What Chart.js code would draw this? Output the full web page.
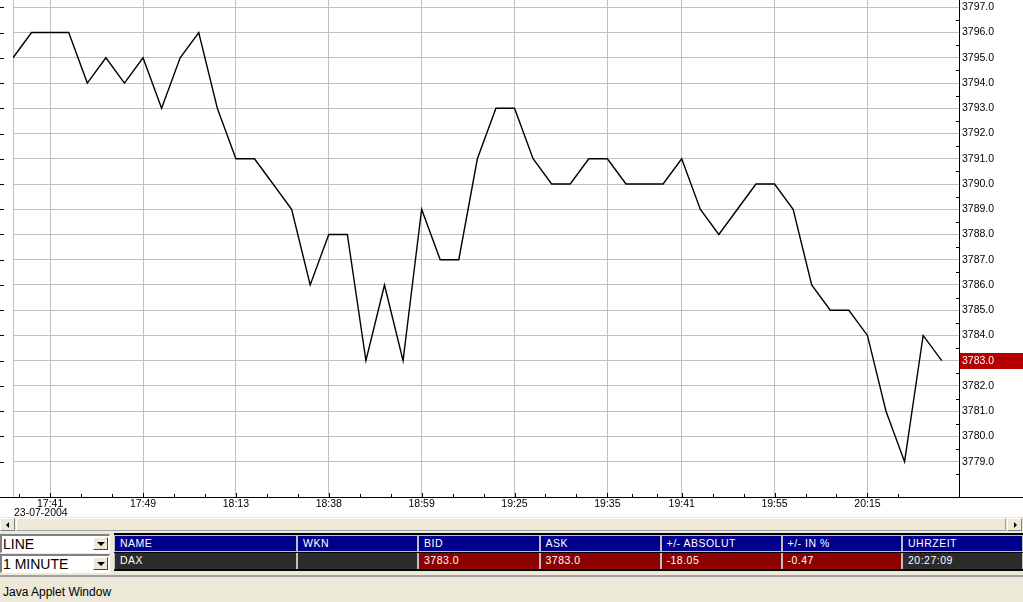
<!DOCTYPE html>
<html>
<head>
<meta charset="utf-8">
<script src="https://cdn.jsdelivr.net/npm/chart.js@4.4.1/dist/chart.umd.min.js"></script>
<style>
  body { margin: 0; width: 1023px; height: 602px; overflow: hidden; position: relative; background: #fff; font-family: "Liberation Sans", Arial, sans-serif; }
  #chart { position: absolute; left: 0; top: 0; }
  .panel { position: absolute; left: 0; top: 517px; width: 1023px; height: 85px; background: #ece9d8; }
  .scroll { position: absolute; left: 0; top: 518px; width: 1023px; height: 14px; background: #ece9d8; }
  .btn { position: absolute; top: 0; width: 15px; height: 13px; background: #ece9d8; border-top: 1px solid #fff; border-left: 1px solid #fff; border-right: 1px solid #808080; border-bottom: 1px solid #808080; box-sizing: border-box; }
  .thumb { position: absolute; left: 16px; top: 0; width: 990px; height: 13px; border-top: 1px solid #fff; border-left: 1px solid #fff; border-right: 1px solid #a0a0a0; border-bottom: 1px solid #a0a0a0; box-sizing: border-box; }
  .tri-l { position: absolute; left: 5px; top: 3px; width: 0; height: 0; border-top: 3px solid transparent; border-bottom: 3px solid transparent; border-right: 3px solid #000; }
  .tri-r { position: absolute; left: 6px; top: 3px; width: 0; height: 0; border-top: 3px solid transparent; border-bottom: 3px solid transparent; border-left: 3px solid #000; }
  .combo { position: absolute; left: 0; width: 110px; height: 19px; background: #fff; border-top: 2px solid #808080; border-left: 2px solid #808080; border-right: 1px solid #fff; border-bottom: 1px solid #fff; box-sizing: border-box; font-size: 14px; line-height: 16px; padding-left: 1px; color: #000; }
  .combo .arrow { position: absolute; right: 1px; top: 1px; width: 15px; height: 13px; background: #ece9d8; border-top: 1px solid #fff; border-left: 1px solid #fff; border-right: 1px solid #404040; border-bottom: 1px solid #404040; box-sizing: border-box; }
  .combo .arrow i { position: absolute; left: 3px; top: 4px; width: 0; height: 0; border-left: 4px solid transparent; border-right: 4px solid transparent; border-top: 4px solid #000; }
  .table { position: absolute; left: 114px; top: 533px; width: 909px; height: 38px; background: #000; }
  .cell { position: absolute; height: 17px; box-sizing: border-box; border: 1px solid #c0c0c0; color: #fff; font-size: 10.5px; letter-spacing: 0.5px; line-height: 15px; padding-left: 5px; white-space: nowrap; overflow: hidden; }
  .hdr { background: #00008c; top: 2px; }
  .row { top: 20px; height: 16px; border-top: none; border-bottom: none; }
  .status { position: absolute; left: 0; top: 575px; width: 1023px; height: 27px; background: #ece9d8; border-top: 2px solid #a0a0a0; box-sizing: border-box; font-size: 12px; padding: 8px 0 0 3px; color: #000; }
</style>
</head>
<body>
<canvas id="chart" width="1023" height="517"></canvas>
<div class="panel"></div>
<div class="scroll">
  <div class="btn" style="left:0"><span class="tri-l"></span></div>
  <div class="thumb"></div>
  <div class="btn" style="left:1007px"><span class="tri-r"></span></div>
</div>
<div class="combo" style="top:534px">LINE<div class="arrow"><i></i></div></div>
<div class="combo" style="top:554px">1 MINUTE<div class="arrow"><i></i></div></div>
<div class="table" id="quoteTable"></div>
<div class="status">Java Applet Window</div>

<script>
// DAX, 1 minute line, 23-07-2004
const prices = [3795, 3796, 3796, 3796, 3794, 3795, 3794, 3795, 3793, 3795,
  3796, 3793, 3791, 3791, 3790, 3789, 3786, 3788, 3788, 3783,
  3786, 3783, 3789, 3787, 3787, 3791, 3793, 3793, 3791, 3790,
  3790, 3791, 3791, 3790, 3790, 3790, 3791, 3789, 3788, 3789,
  3790, 3790, 3789, 3786, 3785, 3785, 3784, 3781, 3779, 3784, 3783];
const timeTickIndex = [2, 7, 12, 17, 22, 27, 32, 36, 41, 46];
const timeTickLabels = ['17:41', '17:49', '18:13', '18:38', '18:59', '19:25', '19:35', '19:41', '19:55', '20:15'];
const dateLabel = '23-07-2004';
const priceTicks = [3779, 3780, 3781, 3782, 3783, 3784, 3785, 3786, 3787, 3788,
  3789, 3790, 3791, 3792, 3793, 3794, 3795, 3796, 3797];

// quote table
const columns = ['NAME', 'WKN', 'BID', 'ASK', '+/- ABSOLUT', '+/- IN %', 'UHRZEIT'];
const quoteRow = ['DAX', '', '3783.0', '3783.0', '-18.05', '-0.47', '20:27:09'];
const quoteRowRed = [false, false, true, true, true, true, false];
const columnEdges = [0, 183, 304, 425.5, 546.5, 667.5, 788, 909];

const table = document.getElementById('quoteTable');
columns.forEach((name, i) => {
  const w = columnEdges[i + 1] - columnEdges[i];
  const h = document.createElement('div');
  h.className = 'cell hdr';
  h.style.left = columnEdges[i] + 'px';
  h.style.width = w + 'px';
  h.textContent = name;
  table.appendChild(h);
  const d = document.createElement('div');
  d.className = 'cell row';
  d.style.left = columnEdges[i] + 'px';
  d.style.width = w + 'px';
  d.style.background = quoteRowRed[i] ? '#8c0000' : '#2b2b2b';
  d.textContent = quoteRow[i];
  table.appendChild(d);
});

const FONT = { family: '"Liberation Sans", Arial, sans-serif', size: 10.5 };

// extra axis decoration: full-width x axis line, minor ticks, date, last price box
const decorations = {
  id: 'decorations',
  afterDraw(chart) {
    const ctx = chart.ctx;
    const area = chart.chartArea;
    const x = chart.scales.x;
    const y = chart.scales.y;
    ctx.save();
    ctx.fillStyle = '#000';
    ctx.fillRect(0, Math.round(area.bottom), chart.width, 1);

    // minor ticks on the time axis (thirds between labelled ticks)
    const minor = [];
    for (let k = 0; k < timeTickIndex.length - 1; k++) {
      const a = timeTickIndex[k], b = timeTickIndex[k + 1];
      minor.push(a + (b - a) / 3, a + 2 * (b - a) / 3);
    }
    minor.push(timeTickIndex[0] - 5 / 3, timeTickIndex[timeTickIndex.length - 1] + 5 / 3);
    minor.forEach(v => {
      const px = Math.round(x.getPixelForValue(v));
      if (px > area.left && px < area.right) ctx.fillRect(px, Math.round(area.bottom) - 3, 1, 3);
    });
    timeTickIndex.forEach(v => {
      const px = Math.round(x.getPixelForValue(v));
      ctx.fillRect(px, Math.round(area.bottom) - 4, 1, 4);
    });

    // half-unit ticks on the price axis, and stubs on the left edge
    priceTicks.forEach(v => {
      const py = Math.round(y.getPixelForValue(v));
      ctx.fillRect(0, py, 4, 1);
      const ph = Math.round(y.getPixelForValue(v - 0.5));
      ctx.fillRect(Math.round(area.right) - 3, ph, 3, 1);
    });

    // date under the first time label
    ctx.font = FONT.size + 'px ' + FONT.family;
    ctx.textBaseline = 'middle';
    ctx.textAlign = 'left';
    ctx.fillText(dateLabel, area.left + 1, 513);

    // last price marker
    const last = prices[prices.length - 1];
    const lp = y.getPixelForValue(last);
    ctx.fillStyle = '#b40000';
    ctx.fillRect(Math.round(area.right) + 1, Math.round(lp) - 8, chart.width - area.right, 16);
    ctx.fillStyle = '#fff';
    ctx.fillText(last.toFixed(1), Math.round(area.right) + 3, lp);
    ctx.restore();
  }
};

new Chart(document.getElementById('chart'), {
  type: 'line',
  data: {
    datasets: [{
      data: prices.map((p, i) => ({ x: i, y: p })),
      borderColor: '#000',
      borderWidth: 1.4,
      pointRadius: 0,
      tension: 0,
      fill: false
    }]
  },
  options: {
    responsive: false,
    animation: false,
    layout: { padding: { left: 13, top: 0, right: 0, bottom: 0 } },
    plugins: { legend: { display: false }, tooltip: { enabled: false } },
    scales: {
      x: {
        type: 'linear',
        min: 0,
        max: 50.93,
        afterBuildTicks: s => { s.ticks = [0].concat(timeTickIndex).map(v => ({ value: v })); },
        afterFit: s => { s.height = 20; s.paddingLeft = 0; s.paddingRight = 0; },
        ticks: {
          autoSkip: false,
          maxRotation: 0,
          padding: 1,
          color: '#000',
          font: FONT,
          callback: v => {
            const k = timeTickIndex.indexOf(v);
            return k >= 0 ? timeTickLabels[k] : '';
          }
        },
        grid: { color: '#c0c0c0', drawTicks: false },
        border: { display: false }
      },
      y: {
        type: 'linear',
        position: 'right',
        min: 3777.6,
        max: 3797.29,
        afterBuildTicks: s => { s.ticks = priceTicks.map(v => ({ value: v })); },
        afterFit: s => { s.width = 64; s.paddingTop = 0; s.paddingBottom = 0; },
        ticks: {
          padding: 3,
          color: '#000',
          font: FONT,
          callback: v => v.toFixed(1)
        },
        grid: { color: '#c0c0c0', drawTicks: false },
        border: { display: true, color: '#000', width: 1 }
      }
    }
  },
  plugins: [decorations]
});
</script>
</body>
</html>
